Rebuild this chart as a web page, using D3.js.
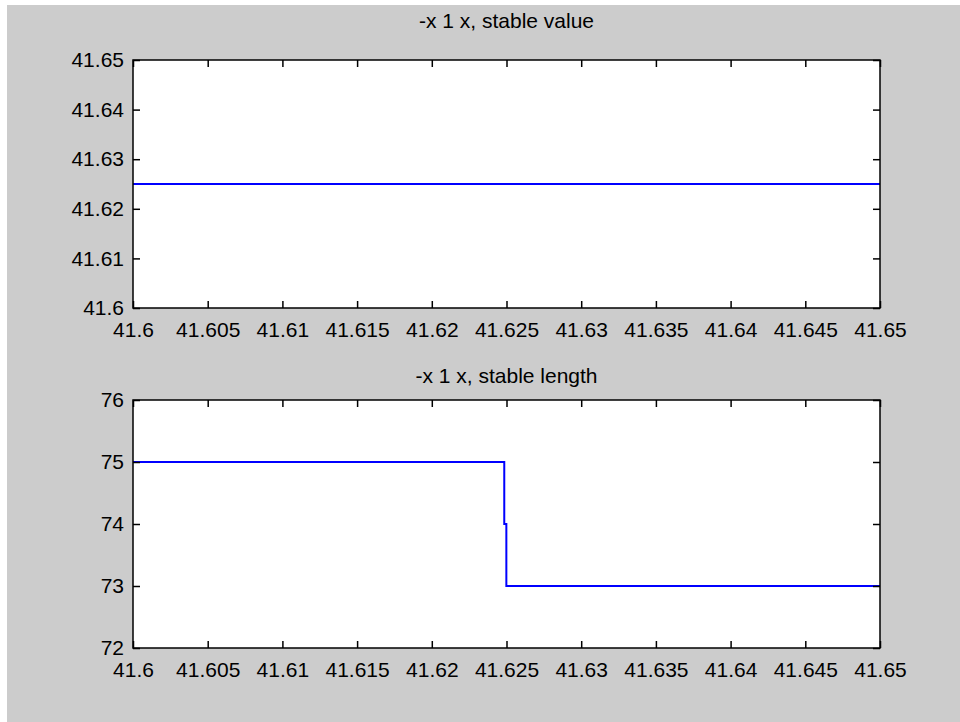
<!DOCTYPE html>
<html>
<head>
<meta charset="utf-8">
<script src="https://cdn.jsdelivr.net/npm/d3@7"></script>
<style>
  body { margin: 0; background: #ffffff; }
  svg { display: block; }
  text { font-family: "Liberation Sans", Arial, sans-serif; fill: #000; }
</style>
</head>
<body>
<div id="chart"></div>
<script>
// x ticks shared by both panels
var xTicks = [41.6, 41.605, 41.61, 41.615, 41.62, 41.625, 41.63, 41.635, 41.64, 41.645, 41.65];
var xTickLabels = ["41.6", "41.605", "41.61", "41.615", "41.62", "41.625", "41.63", "41.635", "41.64", "41.645", "41.65"];

// top panel: stable value
var valueX = [41.6, 41.65];
var valueY = [41.625, 41.625];
var valueTicks = [41.6, 41.61, 41.62, 41.63, 41.64, 41.65];
var valueTickLabels = ["41.6", "41.61", "41.62", "41.63", "41.64", "41.65"];

// bottom panel: stable length (stairs)
var lengthX = [41.6, 41.62485, 41.62499, 41.65];
var lengthY = [75, 74, 73, 73];
var lengthTicks = [72, 73, 74, 75, 76];
var lengthTickLabels = ["72", "73", "74", "75", "76"];

var W = 960, H = 722;
var svg = d3.select("#chart").append("svg")
  .attr("width", W).attr("height", H);

// figure background (white strip on top/left like the source)
svg.append("rect").attr("x", 7).attr("y", 5)
  .attr("width", W - 7).attr("height", H - 5)
  .attr("fill", "#cccccc");

var left = 133, right = 880;

drawPanel({
  top: 60, bottom: 308, titleY: 28,
  title: "-x 1 x, stable value",
  yDomain: [41.6, 41.65], yTicks: valueTicks, yLabels: valueTickLabels,
  xs: valueX, ys: valueY, curve: d3.curveLinear
});

drawPanel({
  top: 400, bottom: 648, titleY: 383,
  title: "-x 1 x, stable length",
  yDomain: [72, 76], yTicks: lengthTicks, yLabels: lengthTickLabels,
  xs: lengthX, ys: lengthY, curve: d3.curveStepAfter
});

function drawPanel(p) {
  var x = d3.scaleLinear().domain([41.6, 41.65]).range([left, right]);
  var y = d3.scaleLinear().domain(p.yDomain).range([p.bottom, p.top]);
  var g = svg.append("g");
  var tickLen = 7;

  g.append("rect")
    .attr("x", left).attr("y", p.top)
    .attr("width", right - left).attr("height", p.bottom - p.top)
    .attr("fill", "#ffffff");

  // the data line
  var pts = p.xs.map(function (d, i) { return [d, p.ys[i]]; });
  var line = d3.line()
    .x(function (d) { return x(d[0]); })
    .y(function (d) { return y(d[1]); })
    .curve(p.curve);
  g.append("path")
    .attr("d", line(pts))
    .attr("fill", "none")
    .attr("stroke", "#0000ff")
    .attr("stroke-width", 2);

  // inward ticks on all four sides
  var axStyle = function (sel) {
    sel.select(".domain").remove();
    sel.selectAll("line").attr("stroke", "#000").attr("stroke-width", 1.5);
  };
  var fmtX = function (d, i) { return xTickLabels[i]; };
  var fmtY = function (d, i) { return p.yLabels[i]; };

  var bottomAx = g.append("g").attr("transform", "translate(0," + p.bottom + ")")
    .call(d3.axisBottom(x).tickValues(xTicks).tickFormat(fmtX).tickSizeInner(-tickLen).tickPadding(14));
  axStyle(bottomAx);
  bottomAx.selectAll("text").attr("font-size", 21);

  var topAx = g.append("g").attr("transform", "translate(0," + p.top + ")")
    .call(d3.axisTop(x).tickValues(xTicks).tickFormat("").tickSizeInner(-tickLen));
  axStyle(topAx);

  var leftAx = g.append("g").attr("transform", "translate(" + left + ",0)")
    .call(d3.axisLeft(y).tickValues(p.yTicks).tickFormat(fmtY).tickSizeInner(-tickLen).tickPadding(9));
  axStyle(leftAx);
  leftAx.selectAll("text").attr("font-size", 21);

  var rightAx = g.append("g").attr("transform", "translate(" + right + ",0)")
    .call(d3.axisRight(y).tickValues(p.yTicks).tickFormat("").tickSizeInner(-tickLen));
  axStyle(rightAx);

  // box
  g.append("rect")
    .attr("x", left).attr("y", p.top)
    .attr("width", right - left).attr("height", p.bottom - p.top)
    .attr("fill", "none").attr("stroke", "#000").attr("stroke-width", 1.5);

  g.append("text")
    .attr("x", (left + right) / 2).attr("y", p.titleY)
    .attr("text-anchor", "middle")
    .attr("font-size", 21)
    .text(p.title);
}
</script>
</body>
</html>
